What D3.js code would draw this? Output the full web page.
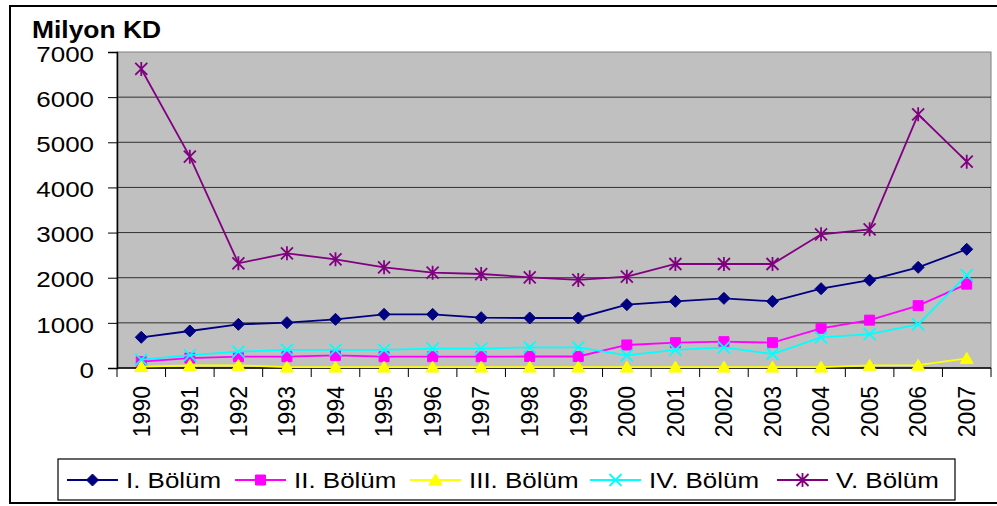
<!DOCTYPE html>
<html>
<head>
<meta charset="utf-8">
<script src="https://cdn.jsdelivr.net/npm/d3@7"></script>
<style>
  body { margin: 0; background: #fff; }
  svg text { font-family: "Liberation Sans", Arial, sans-serif; fill: #000; }
</style>
</head>
<body>
<div id="chart"></div>
<script>
// data
var years = ["1990","1991","1992","1993","1994","1995","1996","1997","1998","1999",
             "2000","2001","2002","2003","2004","2005","2006","2007"];
var bolum1 = [680, 820, 967, 1004, 1078, 1189, 1189, 1115, 1108, 1108, 1403, 1477, 1543, 1477, 1757, 1945, 2230, 2630];
var bolum2 = [140, 220, 250, 250, 280, 250, 250, 250, 255, 255, 510, 561, 583, 561, 879, 1060, 1381, 1858];
var bolum3 = [30, 55, 60, 20, 20, 20, 20, 20, 20, 20, 20, 20, 20, 20, 20, 60, 62, 212];
var bolum4 = [185, 285, 362, 400, 400, 400, 428, 428, 458, 458, 280, 400, 458, 310, 680, 750, 965, 2058];
var bolum5 = [6624, 4681, 2319, 2540, 2408, 2230, 2112, 2082, 2009, 1950, 2023, 2304, 2304, 2304, 2961, 3072, 5620, 4571];
var seriesNames = ["I. Bölüm", "II. Bölüm", "III. Bölüm", "IV. Bölüm", "V. Bölüm"];
var yTicks = [0, 1000, 2000, 3000, 4000, 5000, 6000, 7000];

var width = 997, height = 506;
var margin = {top: 52, left: 117, right: 6, bottom: 138};
var stretch = 1.18; // text in the picture is a bit wider than normal

var series = [
  {name: seriesNames[0], values: bolum1, color: "#000080", marker: "diamond"},
  {name: seriesNames[1], values: bolum2, color: "#FF00FF", marker: "square"},
  {name: seriesNames[2], values: bolum3, color: "#FFFF00", marker: "triangle"},
  {name: seriesNames[3], values: bolum4, color: "#00FFFF", marker: "cross"},
  {name: seriesNames[4], values: bolum5, color: "#800080", marker: "star"}
];

var svg = d3.select("#chart")
  .append("svg")
  .attr("width", width)
  .attr("height", height);

// outer frame
svg.append("rect")
  .attr("x", 10).attr("y", 6)
  .attr("width", width + 10).attr("height", 497)
  .attr("fill", "#fff")
  .attr("stroke", "#000")
  .attr("stroke-width", 2);

var xScale = d3.scaleBand()
  .domain(years)
  .range([margin.left, width - margin.right]);

var yScale = d3.scaleLinear()
  .domain([0, 7000])
  .range([height - margin.bottom, margin.top]);

// plot area
svg.append("rect")
  .attr("x", margin.left).attr("y", margin.top)
  .attr("width", width - margin.right - margin.left)
  .attr("height", height - margin.bottom - margin.top)
  .attr("fill", "#C0C0C0")
  .attr("stroke", "#808080")
  .attr("stroke-width", 1);

// grid
svg.selectAll(".grid")
  .data(yTicks.filter(function(d) { return d > 0 && d < 7000; }))
  .enter()
  .append("line")
  .attr("x1", margin.left).attr("x2", width - margin.right)
  .attr("y1", function(d) { return yScale(d); })
  .attr("y2", function(d) { return yScale(d); })
  .attr("stroke", "#303030")
  .attr("stroke-width", 1);

// y axis
var yAxis = svg.append("g")
  .attr("transform", "translate(" + margin.left + ",0)")
  .call(d3.axisLeft(yScale).tickValues(yTicks).tickSize(9).tickPadding(0).tickFormat(d3.format("d")));
yAxis.select(".domain").attr("stroke", "#000").attr("stroke-width", 1.5);
yAxis.selectAll(".tick line").attr("stroke", "#000");
yAxis.selectAll(".tick text")
  .attr("x", -23 / stretch)
  .attr("dy", "0.42em")
  .attr("transform", "scale(" + stretch + ",1)")
  .style("font-size", "22px");

// x axis: ticks between categories
var xAxis = svg.append("g")
  .attr("transform", "translate(0," + (height - margin.bottom) + ")");
xAxis.append("line")
  .attr("x1", margin.left).attr("x2", width - margin.right)
  .attr("stroke", "#000").attr("stroke-width", 1.5);
xAxis.selectAll(".xtick")
  .data(years.concat(["end"]))
  .enter()
  .append("line")
  .attr("x1", function(d) { return d === "end" ? width - margin.right : xScale(d); })
  .attr("x2", function(d) { return d === "end" ? width - margin.right : xScale(d); })
  .attr("y1", 0).attr("y2", 9)
  .attr("stroke", "#000");
xAxis.selectAll(".xlabel")
  .data(years)
  .enter()
  .append("text")
  .attr("transform", function(d) {
    return "translate(" + (xScale(d) + xScale.bandwidth() / 2) + ",18) rotate(-90)";
  })
  .attr("text-anchor", "end")
  .attr("dy", "0.36em")
  .style("font-size", "23px")
  .text(function(d) { return d; });

// title
svg.append("text")
  .attr("transform", "translate(32,38) scale(1.1,1)")
  .style("font-size", "24px")
  .style("font-weight", "bold")
  .text("Milyon KD");

function markerPath(type) {
  if (type === "diamond") return "M0,-6L6,0L0,6L-6,0Z";
  if (type === "square") return "M-5,-5H5V5H-5Z";
  if (type === "triangle") return "M0,-6L6.5,5H-6.5Z";
  if (type === "cross") return "M-6,-6L6,6M-6,6L6,-6";
  return "M-6,-6L6,6M-6,6L6,-6M0,-7V7";
}
function markerFill(s) {
  return (s.marker === "cross" || s.marker === "star") ? "none" : s.color;
}

var line = d3.line()
  .x(function(d, i) { return xScale(years[i]) + xScale.bandwidth() / 2; })
  .y(function(d) { return yScale(d); });

series.forEach(function(s) {
  var g = svg.append("g");
  g.append("path")
    .datum(s.values)
    .attr("d", line)
    .attr("fill", "none")
    .attr("stroke", s.color)
    .attr("stroke-width", 1.8);
  g.selectAll("path.pt")
    .data(s.values)
    .enter()
    .append("path")
    .attr("class", "pt")
    .attr("transform", function(d, i) {
      return "translate(" + (xScale(years[i]) + xScale.bandwidth() / 2) + "," + yScale(d) + ")";
    })
    .attr("d", markerPath(s.marker))
    .attr("fill", markerFill(s))
    .attr("stroke", s.color)
    .attr("stroke-width", (s.marker === "cross" || s.marker === "star") ? 1.8 : 1);
});

// legend
var legend = svg.append("g");
legend.append("rect")
  .attr("x", 58).attr("y", 459)
  .attr("width", 897).attr("height", 41)
  .attr("fill", "#fff")
  .attr("stroke", "#000")
  .attr("stroke-width", 1.2);

var legendX = [67, 235, 410, 590, 777];
var items = legend.selectAll(".item")
  .data(series)
  .enter()
  .append("g")
  .attr("transform", function(d, i) { return "translate(" + legendX[i] + ",480)"; });
items.append("line")
  .attr("x1", 0).attr("x2", 51)
  .attr("stroke", function(d) { return d.color; })
  .attr("stroke-width", 1.8);
items.append("path")
  .attr("transform", "translate(25.5,0)")
  .attr("d", function(d) { return markerPath(d.marker); })
  .attr("fill", function(d) { return markerFill(d); })
  .attr("stroke", function(d) { return d.color; })
  .attr("stroke-width", function(d) { return (d.marker === "cross" || d.marker === "star") ? 1.8 : 1; });
items.append("text")
  .attr("transform", "translate(59,7.5) scale(" + stretch + ",1)")
  .style("font-size", "22px")
  .text(function(d) { return d.name; });
</script>
</body>
</html>
